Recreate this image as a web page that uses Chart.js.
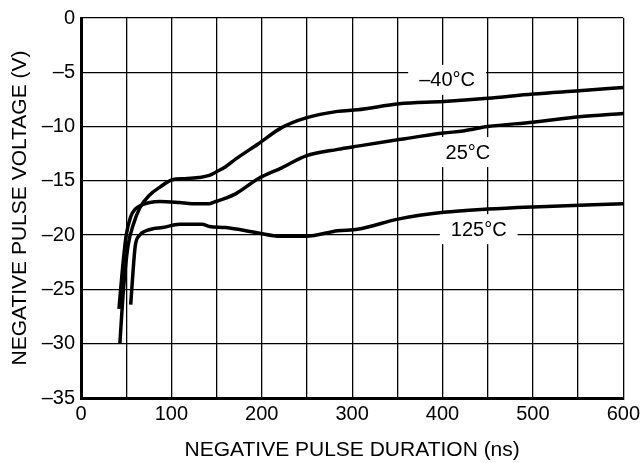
<!DOCTYPE html>
<html>
<head>
<meta charset="utf-8">
<script src="https://cdn.jsdelivr.net/npm/chart.js@4"></script>
<style>
  html, body { margin: 0; padding: 0; background: #fff; }
  #wrap { width: 644px; height: 463px; }
</style>
</head>
<body>
<div id="wrap"><canvas id="grafico" width="644" height="463"></canvas></div>
<script>
// pulse duration (ns) and voltage (V)
const xMinus40 = [43, 47, 52, 58, 65, 76, 87, 101, 115, 130, 142, 149, 160, 171, 196, 222, 249, 284, 306, 352, 401, 450, 500, 551, 600];
const yMinus40 = [-30, -25, -21, -19, -17.5, -16.3, -15.6, -14.9, -14.8, -14.7, -14.5, -14.2, -13.7, -13.0, -11.6, -10.1, -9.2, -8.6, -8.45, -7.9, -7.7, -7.4, -7.0, -6.7, -6.4];

const x25 = [42, 46, 50, 55, 60, 68, 76, 87, 109, 123, 142, 149, 160, 171, 196, 222, 249, 284, 306, 352, 401, 423, 450, 500, 551, 600];
const y25 = [-26.8, -23, -20, -18.3, -17.6, -17.2, -17.0, -16.9, -17.0, -17.1, -17.1, -16.9, -16.6, -16.2, -14.8, -13.8, -12.7, -12.1, -11.8, -11.2, -10.6, -10.4, -10.0, -9.6, -9.1, -8.8];

const x125 = [55, 57, 60, 65, 72, 80, 90, 109, 134, 142, 160, 196, 220, 249, 284, 306, 352, 401, 450, 500, 600];
const y125 = [-26.4, -24, -21, -20, -19.6, -19.4, -19.3, -19.0, -19.0, -19.2, -19.3, -19.8, -20.1, -20.1, -19.6, -19.45, -18.5, -17.9, -17.6, -17.4, -17.1];

const curveNames = ['\u201340\u00B0C', '25\u00B0C', '125\u00B0C'];
// where each curve label sits (data units)
const labelX = [405, 428, 440];
const labelY = [-5.7, -12.35, -19.45];

function pts(xs, ys) {
  return xs.map((x, i) => ({ x: x, y: ys[i] }));
}

const FAMILY = 'Arial, "Liberation Sans", sans-serif';
const TICK_FONT = { family: FAMILY, size: 20 };
const TITLE_FONT = { family: FAMILY, size: 21, lineHeight: 1 };

// white boxes with the temperature text, drawn over the grid but under the curves
const curveLabels = {
  id: 'curveLabels',
  beforeDatasetsDraw(chart) {
    const ctx = chart.ctx;
    const sx = chart.scales.x, sy = chart.scales.y;
    ctx.save();
    ctx.font = '20px ' + FAMILY;
    ctx.textAlign = 'center';
    ctx.textBaseline = 'middle';
    curveNames.forEach((t, i) => {
      const cx = sx.getPixelForValue(labelX[i]);
      const cy = sy.getPixelForValue(labelY[i]);
      const w = ctx.measureText(t).width + 22;
      const h = 30;
      ctx.fillStyle = '#fff';
      ctx.fillRect(cx - w / 2, cy - h / 2, w, h);
      ctx.fillStyle = '#000';
      ctx.fillText(t, cx, cy + 1);
    });
    ctx.restore();
  }
};

const lineStyle = {
  borderColor: '#000',
  borderWidth: 3.5,
  pointRadius: 0,
  fill: false,
  tension: 0.35,
  cubicInterpolationMode: 'monotone'
};

new Chart(document.getElementById('grafico').getContext('2d'), {
  type: 'line',
  data: {
    datasets: [
      Object.assign({ label: curveNames[0], data: pts(xMinus40, yMinus40) }, lineStyle),
      Object.assign({ label: curveNames[1], data: pts(x25, y25) }, lineStyle),
      Object.assign({ label: curveNames[2], data: pts(x125, y125) }, lineStyle)
    ]
  },
  options: {
    responsive: false,
    animation: false,
    devicePixelRatio: 1,
    layout: { padding: { top: 14, right: 16, left: 0, bottom: 0 } },
    plugins: {
      legend: { display: false },
      tooltip: { enabled: false }
    },
    scales: {
      x: {
        type: 'linear',
        min: 0,
        max: 600,
        afterFit: s => { s.height = 65; },
        ticks: {
          stepSize: 50,
          color: '#000',
          font: TICK_FONT,
          padding: 4,
          maxRotation: 0,
          autoSkip: false,
          callback: v => (v % 100 === 0 ? String(v) : '')
        },
        grid: { color: '#000', lineWidth: 1.3, drawTicks: false },
        border: { color: '#000', width: 3 },
        title: {
          display: true,
          text: 'NEGATIVE PULSE DURATION (ns)',
          color: '#000',
          font: TITLE_FONT,
          padding: { top: 0, bottom: 2 }
        }
      },
      y: {
        type: 'linear',
        min: -35,
        max: 0,
        afterFit: s => { s.width = 81; },
        ticks: {
          stepSize: 5,
          color: '#000',
          font: TICK_FONT,
          padding: 6,
          callback: v => (v < 0 ? '\u2013' + Math.abs(v) : String(v))
        },
        grid: { color: '#000', lineWidth: 1.3, drawTicks: false },
        border: { color: '#000', width: 3 },
        title: {
          display: true,
          text: 'NEGATIVE PULSE VOLTAGE (V)',
          color: '#000',
          font: TITLE_FONT,
          padding: { top: 10, bottom: 0 }
        }
      }
    }
  },
  plugins: [curveLabels]
});
</script>
</body>
</html>
